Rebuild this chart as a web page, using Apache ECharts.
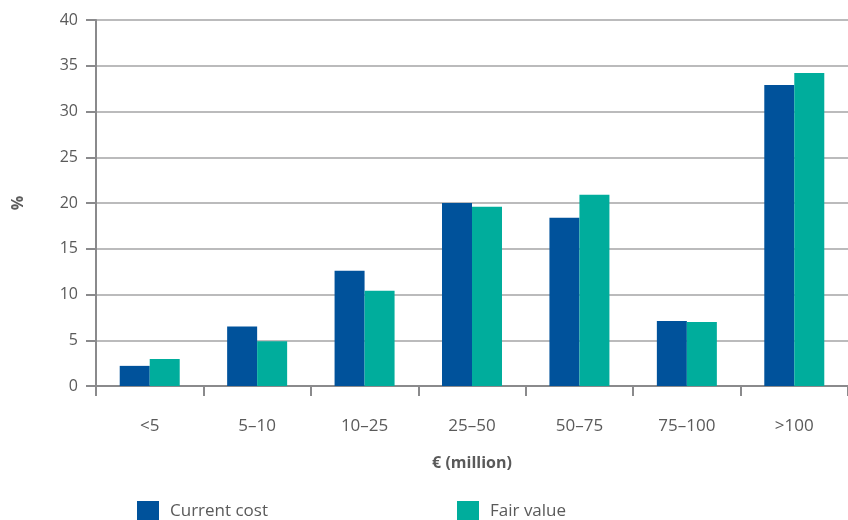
<!DOCTYPE html>
<html>
<head>
<meta charset="utf-8">
<script src="https://cdn.jsdelivr.net/npm/echarts@6/dist/echarts.min.js"></script>
<style>html,body{margin:0;padding:0;background:#fff}#c{width:848px;height:520px}</style>
</head>
<body>
<div id="c"></div>
<script>
const categories = ['<5', '5–10', '10–25', '25–50', '50–75', '75–100', '>100'];
const currentCost = [2.2, 6.5, 12.6, 20.0, 18.4, 7.1, 32.9];
const fairValue = [2.95, 4.9, 10.4, 19.6, 20.9, 7.0, 34.2];
const seriesNames = ['Current cost', 'Fair value'];
const yTicks = { min: 0, max: 40, interval: 5 };

const FONT = '"Open Sans", "Noto Sans", sans-serif';
const TXT = '#5a5a5a';
const AX = '#8a8a8c';

const chart = echarts.init(document.getElementById('c'), null, { renderer: 'canvas' });
chart.setOption({
  animation: false,
  grid: { left: 96, right: 0, top: 20, bottom: 134, containLabel: false },
  legend: [
    { data: [seriesNames[0]], left: 132, top: 496, itemWidth: 22, itemHeight: 21, itemGap: 0,
      icon: 'rect', textStyle: { fontFamily: FONT, fontSize: 17, color: TXT, padding: [0, 0, 0, 6] } },
    { data: [seriesNames[1]], left: 452, top: 496, itemWidth: 22, itemHeight: 21, itemGap: 0,
      icon: 'rect', textStyle: { fontFamily: FONT, fontSize: 17, color: TXT, padding: [0, 0, 0, 6] } }
  ],
  xAxis: {
    type: 'category',
    data: categories,
    name: '€ (million)',
    nameLocation: 'middle',
    nameGap: 69,
    nameTextStyle: { fontFamily: FONT, fontSize: 16, fontWeight: 'bold', color: TXT },
    axisLine: { lineStyle: { color: AX, width: 2 } },
    axisTick: { show: true, length: 10, lineStyle: { color: AX, width: 2 } },
    axisLabel: { margin: 32, fontFamily: FONT, fontSize: 17, color: TXT }
  },
  yAxis: {
    type: 'value',
    min: yTicks.min, max: yTicks.max, interval: yTicks.interval,
    name: '%',
    nameLocation: 'middle',
    nameRotate: 90,
    nameGap: 70,
    nameTextStyle: { fontFamily: FONT, fontSize: 16, fontWeight: 'bold', color: TXT },
    axisLine: { show: true, lineStyle: { color: AX, width: 2 } },
    axisTick: { show: true, length: 10, lineStyle: { color: AX, width: 2 } },
    axisLabel: { margin: 18, fontFamily: FONT, fontSize: 16, color: TXT },
    splitLine: { lineStyle: { color: '#a4a4a6', width: 1.5 } }
  },
  series: [
    { name: seriesNames[0], type: 'bar', data: currentCost, barWidth: 30, barGap: '0%',
      itemStyle: { color: '#00529b' } },
    { name: seriesNames[1], type: 'bar', data: fairValue, barWidth: 30, barGap: '0%',
      itemStyle: { color: '#00ad9c' } }
  ]
});
</script>
</body>
</html>
